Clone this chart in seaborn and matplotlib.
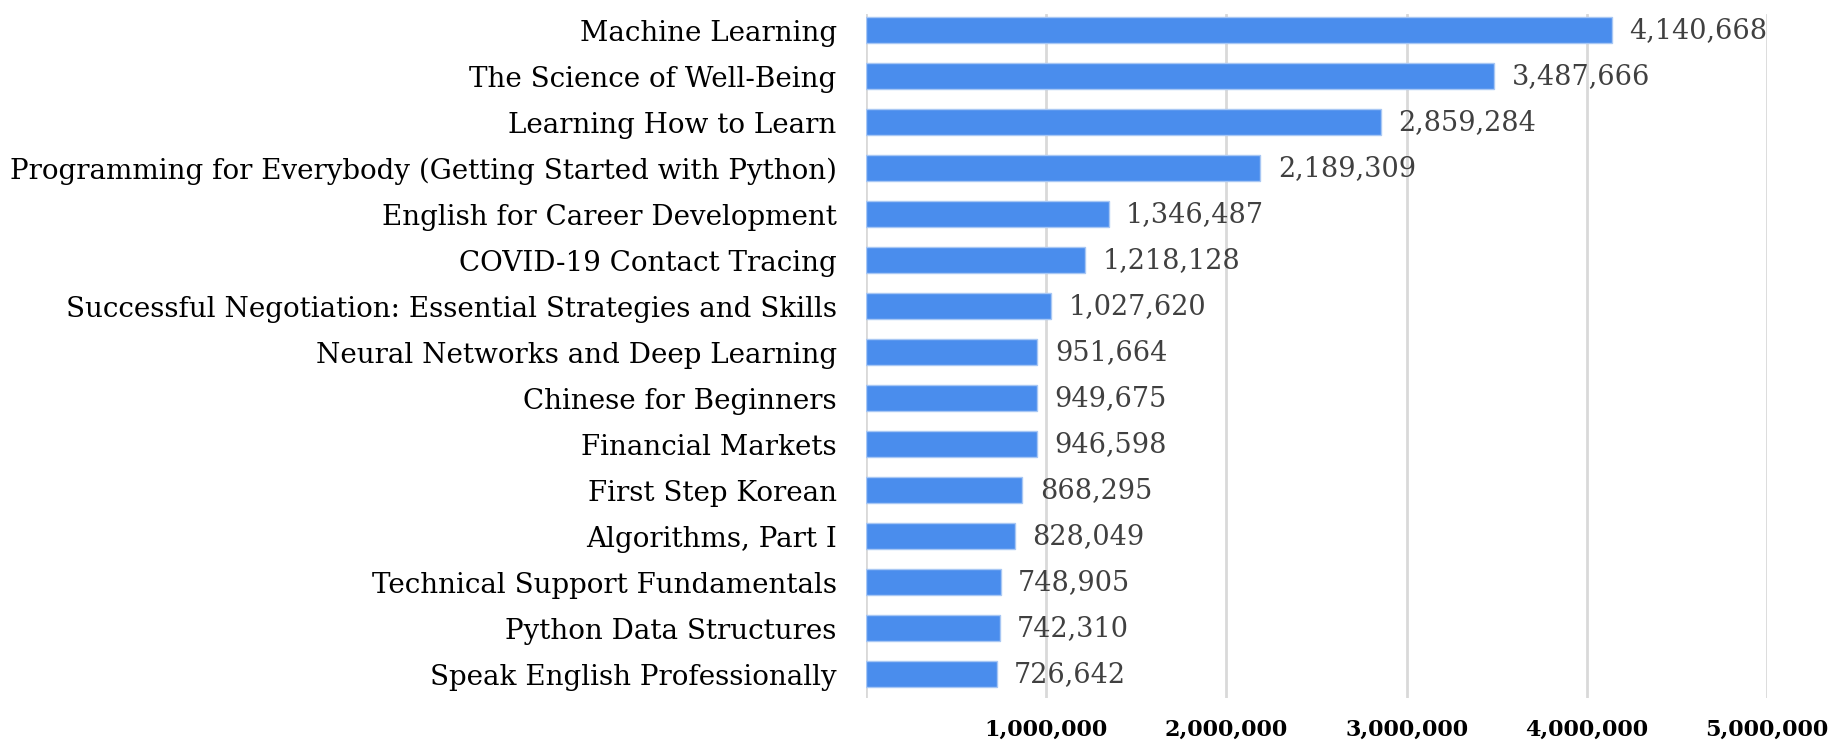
import matplotlib
matplotlib.use("Agg")
import matplotlib.pyplot as plt
import seaborn as sns
import pandas as pd
from matplotlib.ticker import FuncFormatter, FixedLocator

courses = [
    "Machine Learning",
    "The Science of Well-Being",
    "Learning How to Learn",
    "Programming for Everybody (Getting Started with Python)",
    "English for Career Development",
    "COVID-19 Contact Tracing",
    "Successful Negotiation: Essential Strategies and Skills",
    "Neural Networks and Deep Learning",
    "Chinese for Beginners",
    "Financial Markets",
    "First Step Korean",
    "Algorithms, Part I",
    "Technical Support Fundamentals",
    "Python Data Structures",
    "Speak English Professionally",
]
enrollments = [
    4140668, 3487666, 2859284, 2189309, 1346487, 1218128, 1027620,
    951664, 949675, 946598, 868295, 828049, 748905, 742310, 726642,
]
x_ticks = [1000000, 2000000, 3000000, 4000000, 5000000]

df = pd.DataFrame({"course": courses, "enrollment": enrollments})

sns.set_theme(style="white")
plt.rcParams["font.family"] = ["DejaVu Serif"]

fig = plt.figure(figsize=(18.33, 7.41), dpi=100)
ax = fig.add_axes([0.4724, 0.058, 0.964 - 0.4724, 0.981 - 0.058])

sns.barplot(data=df, x="enrollment", y="course", orient="h",
            color="#4a8ded", saturation=1, width=0.56,
            edgecolor="#a8c7f4", linewidth=1, ax=ax)

ax.bar_label(ax.containers[0], labels=[f"{v:,}" for v in enrollments],
             padding=12.5, fontsize=19.5, color="#404040")

ax.set_xlim(0, 5000000)
ax.set_ylim(len(courses) - 0.48, -0.35)
ax.xaxis.set_major_locator(FixedLocator(x_ticks))
ax.xaxis.set_major_formatter(FuncFormatter(lambda v, p: f"{int(v):,}"))
ax.grid(axis="x", color="#d9d9d9", linewidth=2)
ax.set_axisbelow(True)
ax.axvline(0, color="#d9d9d9", linewidth=2, zorder=0)

for s in ax.spines.values():
    s.set_visible(False)

ax.set_xlabel("")
ax.set_ylabel("")
ax.tick_params(axis="y", length=0, pad=21, labelsize=20, labelcolor="black")
ax.tick_params(axis="x", length=0, pad=15, labelsize=16, labelcolor="black")
for t in ax.get_xticklabels():
    t.set_fontweight("bold")

fig.savefig("out.png", dpi=100, facecolor="white")
